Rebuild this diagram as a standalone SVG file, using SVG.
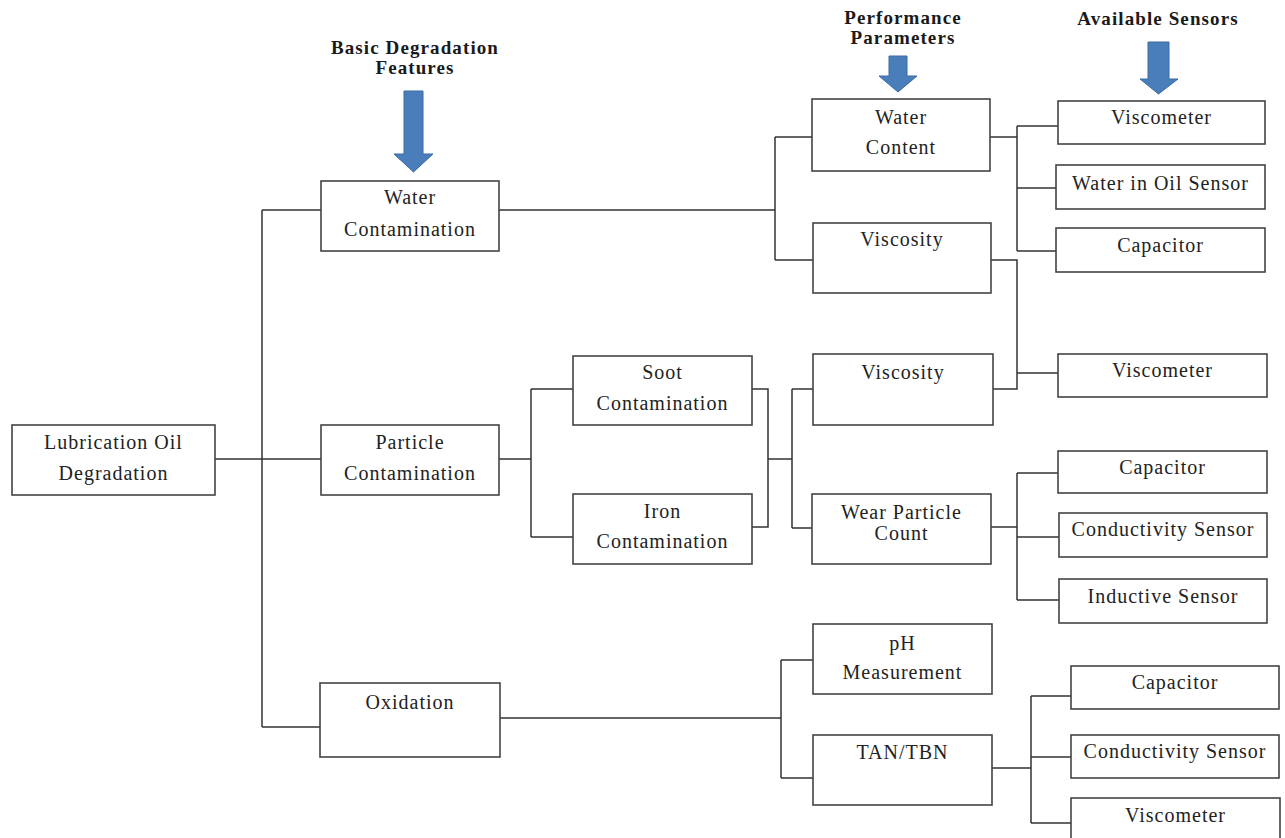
<svg xmlns="http://www.w3.org/2000/svg" width="1285" height="838" viewBox="0 0 1285 838">
<style>
.box{fill:#fff;stroke:#444;stroke-width:1.6}
.t{font-family:"Liberation Serif","Times New Roman",serif;font-size:20px;letter-spacing:1px;fill:#222;text-anchor:middle}
.h{font-family:"Liberation Serif","Times New Roman",serif;font-size:19px;font-weight:bold;letter-spacing:1.1px;fill:#1a1a1a;text-anchor:middle}
.c{fill:none;stroke:#333;stroke-width:1.5}
.arr{fill:#4a7ebb;stroke:#3b6aa3;stroke-width:1}
</style>
<rect width="1285" height="838" fill="#fff"/>

<g id="headers">
<text class="h" x="415" y="54">Basic Degradation</text>
<text class="h" x="415" y="74">Features</text>
<path class="arr" d="M404,91 H423 V154 H433 L413.5,172 L394,154 H404 Z"/>
<text class="h" x="903" y="24">Performance</text>
<text class="h" x="903" y="44">Parameters</text>
<path class="arr" d="M889,56 H907 V76 H917 L898,92 L879,76 H889 Z"/>
<text class="h" x="1158" y="25">Available Sensors</text>
<path class="arr" d="M1148,42 H1169 V79 H1178 L1158.5,94 L1140,79 H1148 Z"/>
</g>

<g id="connectors">
<path class="c" d="M262,210 V727 M262,210 H321 M215,459 H321 M262,727 H320"/>
<path class="c" d="M499,210 H775 M775,137 V260 M775,137 H812 M775,260 H813"/>
<path class="c" d="M990,137 H1017 M1017,126 V251 M1017,126 H1058 M1017,188 H1056 M1017,251 H1056"/>
<path class="c" d="M991,260 H1017 V389 H993 M1017,373 H1058"/>
<path class="c" d="M499,459 H531 M531,389 V537 M531,389 H573 M531,537 H573"/>
<path class="c" d="M752,389 H768 V527 H752 M768,459 H792 M792,389 V528 M792,389 H813 M792,528 H812"/>
<path class="c" d="M991,527 H1017 M1017,473 V600 M1017,473 H1058 M1017,537 H1059 M1017,600 H1059"/>
<path class="c" d="M500,718 H781 M781,660 V778 M781,660 H813 M781,778 H813"/>
<path class="c" d="M992,768 H1031 M1031,696 V823 M1031,696 H1071 M1031,757 H1071 M1031,823 H1071"/>
</g>

<g id="n-lubrication">
<rect class="box" x="12" y="425" width="203" height="70"/>
<text class="t" x="113.5" y="449">Lubrication Oil</text>
<text class="t" x="113.5" y="480">Degradation</text>
</g>
<g id="n-water-contamination">
<rect class="box" x="321" y="181" width="178" height="70"/>
<text class="t" x="410" y="204">Water</text>
<text class="t" x="410" y="236">Contamination</text>
</g>
<g id="n-particle-contamination">
<rect class="box" x="321" y="425" width="178" height="70"/>
<text class="t" x="410" y="449">Particle</text>
<text class="t" x="410" y="480">Contamination</text>
</g>
<g id="n-oxidation">
<rect class="box" x="320" y="683" width="180" height="74"/>
<text class="t" x="410" y="709">Oxidation</text>
</g>
<g id="n-soot">
<rect class="box" x="573" y="356" width="179" height="69"/>
<text class="t" x="662.5" y="379">Soot</text>
<text class="t" x="662.5" y="410">Contamination</text>
</g>
<g id="n-iron">
<rect class="box" x="573" y="494" width="179" height="70"/>
<text class="t" x="662.5" y="518">Iron</text>
<text class="t" x="662.5" y="548">Contamination</text>
</g>
<g id="n-water-content">
<rect class="box" x="812" y="99" width="178" height="72"/>
<text class="t" x="901" y="124">Water</text>
<text class="t" x="901" y="154">Content</text>
</g>
<g id="n-viscosity-1">
<rect class="box" x="813" y="223" width="178" height="70"/>
<text class="t" x="902" y="246">Viscosity</text>
</g>
<g id="n-viscosity-2">
<rect class="box" x="813" y="354" width="180" height="71"/>
<text class="t" x="903" y="379">Viscosity</text>
</g>
<g id="n-wear">
<rect class="box" x="812" y="494" width="179" height="70"/>
<text class="t" x="901.5" y="519">Wear Particle</text>
<text class="t" x="901.5" y="540">Count</text>
</g>
<g id="n-ph">
<rect class="box" x="813" y="624" width="179" height="70"/>
<text class="t" x="902.5" y="650">pH</text>
<text class="t" x="902.5" y="679">Measurement</text>
</g>
<g id="n-tan">
<rect class="box" x="813" y="735" width="179" height="70"/>
<text class="t" x="902.5" y="759">TAN/TBN</text>
</g>
<g id="n-viscometer-1">
<rect class="box" x="1058" y="101" width="207" height="43"/>
<text class="t" x="1161.5" y="124">Viscometer</text>
</g>
<g id="n-water-in-oil">
<rect class="box" x="1056" y="165" width="209" height="44"/>
<text class="t" x="1160.5" y="190" letter-spacing="0.8">Water in Oil Sensor</text>
</g>
<g id="n-capacitor-1">
<rect class="box" x="1056" y="228" width="209" height="44"/>
<text class="t" x="1160.5" y="252">Capacitor</text>
</g>
<g id="n-viscometer-2">
<rect class="box" x="1058" y="354" width="209" height="43"/>
<text class="t" x="1162.5" y="377">Viscometer</text>
</g>
<g id="n-capacitor-2">
<rect class="box" x="1058" y="451" width="209" height="42"/>
<text class="t" x="1162.5" y="474">Capacitor</text>
</g>
<g id="n-conductivity-1">
<rect class="box" x="1059" y="513" width="208" height="44"/>
<text class="t" x="1163" y="536" letter-spacing="0">Conductivity Sensor</text>
</g>
<g id="n-inductive">
<rect class="box" x="1059" y="579" width="208" height="44"/>
<text class="t" x="1163" y="603">Inductive Sensor</text>
</g>
<g id="n-capacitor-3">
<rect class="box" x="1071" y="666" width="208" height="43"/>
<text class="t" x="1175" y="689">Capacitor</text>
</g>
<g id="n-conductivity-2">
<rect class="box" x="1071" y="735" width="208" height="43"/>
<text class="t" x="1175" y="758" letter-spacing="0">Conductivity Sensor</text>
</g>
<g id="n-viscometer-3">
<rect class="box" x="1071" y="798" width="209" height="50"/>
<text class="t" x="1175.5" y="822">Viscometer</text>
</g>
</svg>
